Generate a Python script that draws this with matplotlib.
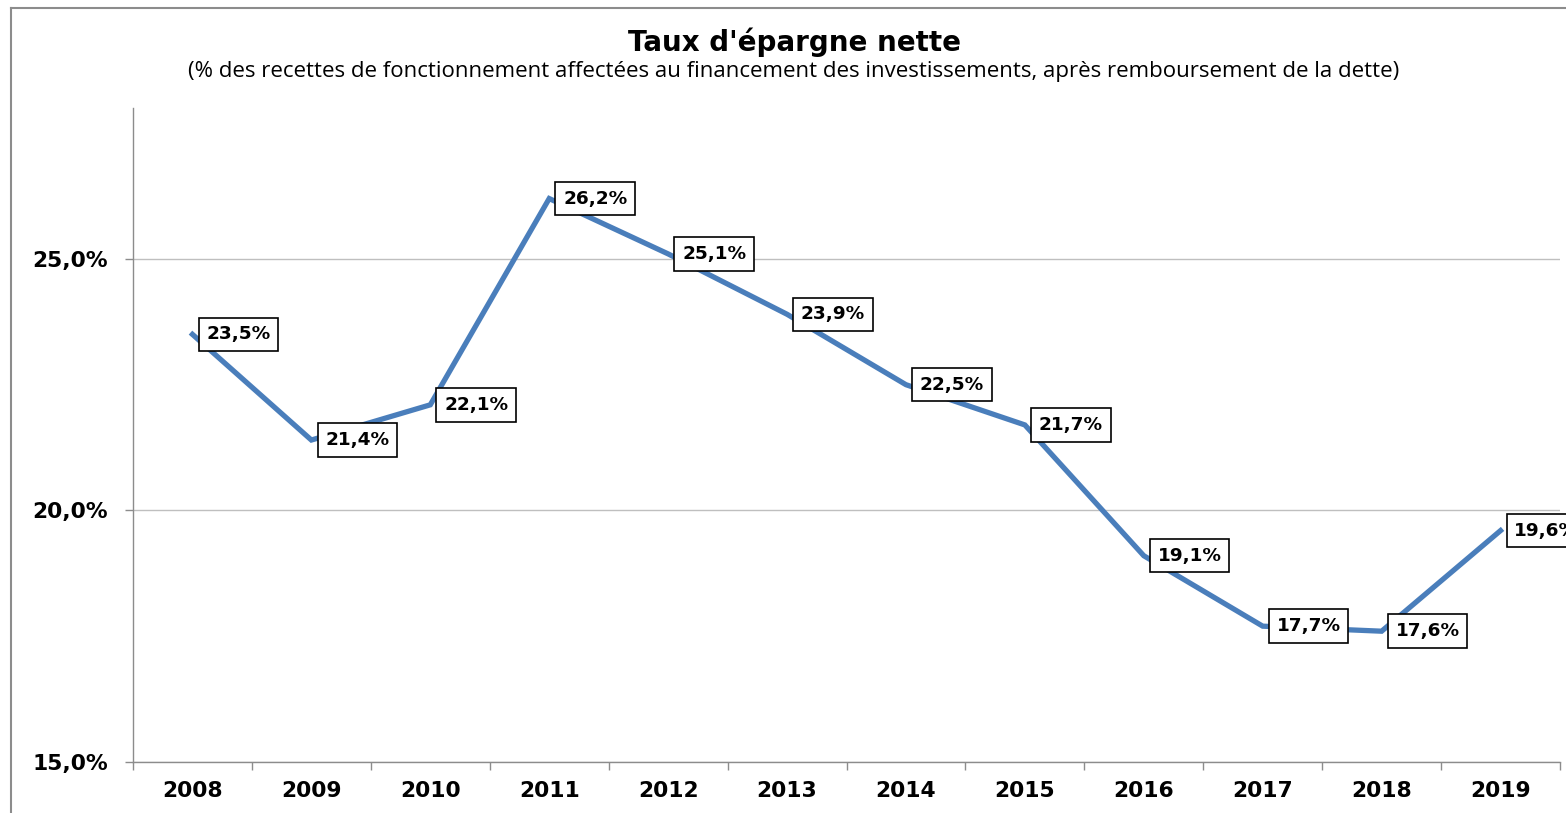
import matplotlib.pyplot as plt
from matplotlib.lines import Line2D
from matplotlib.ticker import FuncFormatter, MultipleLocator, FixedLocator

years = ['2008', '2009', '2010', '2011', '2012', '2013', '2014', '2015', '2016', '2017', '2018', '2019']
taux = [23.5, 21.4, 22.1, 26.2, 25.1, 23.9, 22.5, 21.7, 19.1, 17.7, 17.6, 19.6]

title = "Taux d'épargne nette"
subtitle = ("(% des recettes de fonctionnement affectées au financement des investissements, "
            "après remboursement de la dette)")

fig = plt.figure(figsize=(15.66, 8.13), dpi=100)
ax = fig.add_axes([133 / 1566, 1 - 762 / 813, (1560 - 133) / 1566, (762 - 108) / 813])

# cadre gris du graphique (gauche + haut)
fig.add_artist(Line2D([11 / 1566, 11 / 1566], [0, 1 - 8 / 813], transform=fig.transFigure,
                      color='#8c8c8c', lw=1.5))
fig.add_artist(Line2D([11 / 1566, 1], [1 - 8 / 813, 1 - 8 / 813], transform=fig.transFigure,
                      color='#8c8c8c', lw=1.5))

x = list(range(len(years)))
ax.plot(x, taux, color='#4a7ebb', lw=3.8, solid_joinstyle='miter', zorder=3)

for xi, v in zip(x, taux):
    ax.annotate(f"{v:.1f}%".replace('.', ','), (xi, v), xytext=(10, 0), textcoords='offset points',
                ha='left', va='center', fontsize=13.3, fontweight='bold', color='black',
                bbox=dict(boxstyle='square,pad=0.42', fc='white', ec='black', lw=1.2),
                annotation_clip=False, clip_on=False, zorder=4)

ax.set_xlim(-0.5, 11.5)
ax.set_ylim(15, 28)
ax.yaxis.set_major_locator(MultipleLocator(5))
ax.yaxis.set_major_formatter(FuncFormatter(lambda v, p: f"{v:.1f}%".replace('.', ',')))
ax.set_xticks(x)
ax.set_xticklabels(years)
ax.xaxis.set_minor_locator(FixedLocator([i - 0.5 for i in range(len(years) + 1)]))

ax.tick_params(axis='x', which='major', length=0, pad=14, labelsize=15.7)
ax.tick_params(axis='x', which='minor', length=6, width=1, color='#8c8c8c', direction='out')
ax.tick_params(axis='y', which='major', length=6, width=1, color='#8c8c8c', pad=12, labelsize=15.7)
for lab in ax.get_xticklabels() + ax.get_yticklabels():
    lab.set_fontweight('bold')

ax.grid(axis='y', color='#bfbfbf', lw=1)
ax.set_axisbelow(True)
for s in ['top', 'right']:
    ax.spines[s].set_visible(False)
for s in ['left', 'bottom']:
    ax.spines[s].set_color('#8c8c8c')
    ax.spines[s].set_linewidth(1)

fig.text(794 / 1566, 1 - 42 / 813, title, ha='center', va='center', fontsize=20,
         fontweight='bold')
fig.text(794 / 1566, 1 - 72 / 813, subtitle, ha='center', va='center', fontsize=16,
         family='Open Sans')

fig.savefig('out.png', dpi=100)
